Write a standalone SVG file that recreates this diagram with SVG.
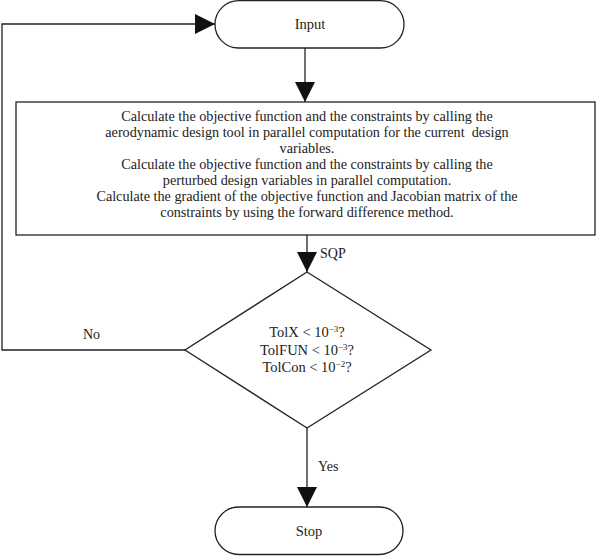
<svg xmlns="http://www.w3.org/2000/svg" width="600" height="556" viewBox="0 0 600 556">
<style>
.s{fill:#fff;stroke:#222;stroke-width:1.3}
.c{fill:none;stroke:#222;stroke-width:1.3}
.t{font-family:"Liberation Serif",serif;font-size:14.5px;fill:#222;text-anchor:middle}
.b{font-family:"Liberation Serif",serif;font-size:14.2px;fill:#222;text-anchor:middle}
.d{font-family:"Liberation Serif",serif;font-size:14.5px;fill:#222;text-anchor:middle}
.l{font-family:"Liberation Serif",serif;font-size:14px;fill:#222}
.sup{font-size:9px}
</style>
<defs>
<marker id="a" markerWidth="20" markerHeight="20" viewBox="0 0 20 20" refX="20" refY="10" orient="auto" markerUnits="userSpaceOnUse">
<path d="M0,0 L20,10 L0,20 Z" fill="#111"/>
</marker>
</defs>
<g id="connectors">
<path class="c" d="M305,48 V102" marker-end="url(#a)"/>
<path class="c" d="M307,235 V272" marker-end="url(#a)"/>
<path class="c" d="M185,350 H2 V24 H215" marker-end="url(#a)"/>
<path class="c" d="M307,428 V507" marker-end="url(#a)"/>
<text class="l" x="320" y="258">SQP</text>
<text class="l" x="83" y="339">No</text>
<text class="l" x="318" y="471">Yes</text>
</g>
<g id="input">
<rect class="s" x="215" y="0.7" width="189" height="47.3" rx="23.6"/>
<text class="t" x="310" y="29">Input</text>
</g>
<g id="process">
<rect class="s" x="16" y="102" width="579" height="133"/>
<text class="b" x="307" y="121">Calculate the objective function and the constraints by calling the</text>
<text class="b" x="307" y="137">aerodynamic design tool in parallel computation for the current&#160; design</text>
<text class="b" x="307" y="153">variables.</text>
<text class="b" x="307" y="169">Calculate the objective function and the constraints by calling the</text>
<text class="b" x="307" y="185">perturbed design variables in parallel computation.</text>
<text class="b" x="307" y="201">Calculate the gradient of the objective function and Jacobian matrix of the</text>
<text class="b" x="307" y="217">constraints by using the forward difference method.</text>
</g>
<g id="decision">
<polygon class="s" points="307,272 431,350 307,428 185,350"/>
<text class="d" x="307" y="337">TolX &lt; 10<tspan class="sup" dy="-5">−3</tspan><tspan dy="5">?</tspan></text>
<text class="d" x="307" y="355">TolFUN &lt; 10<tspan class="sup" dy="-5">−3</tspan><tspan dy="5">?</tspan></text>
<text class="d" x="307" y="372">TolCon &lt; 10<tspan class="sup" dy="-5">−2</tspan><tspan dy="5">?</tspan></text>
</g>
<g id="stop">
<rect class="s" x="215" y="507" width="188" height="47.5" rx="23.7"/>
<text class="t" x="309" y="536">Stop</text>
</g>
</svg>
